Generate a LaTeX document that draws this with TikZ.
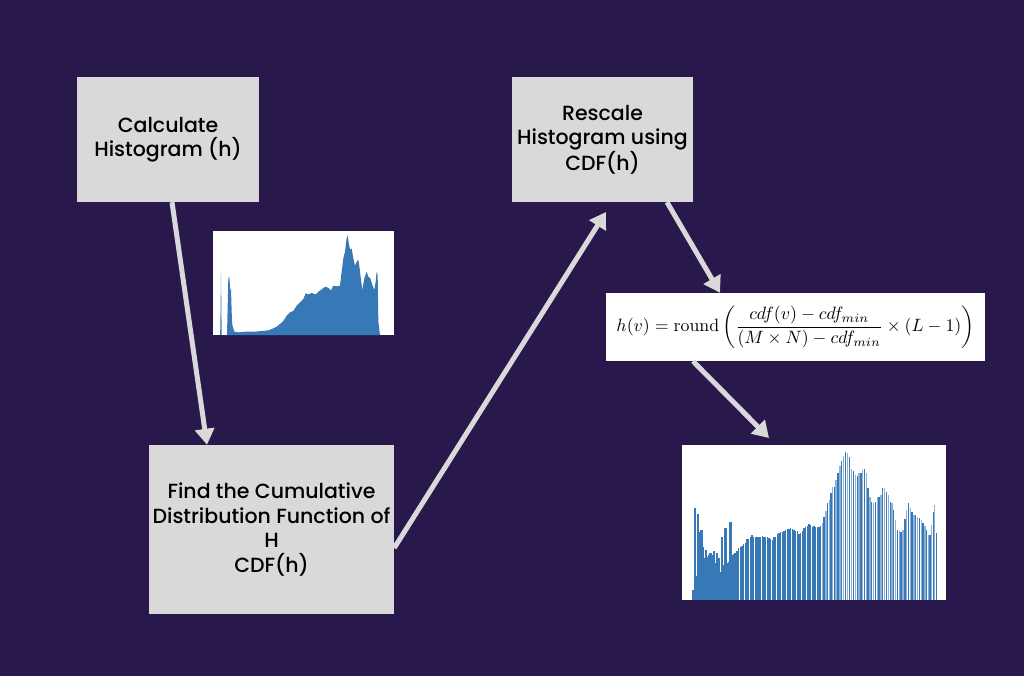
\documentclass[tikz,border=0pt]{standalone}
\usepackage{amsmath}
\usepackage[no-math]{fontspec}
\setmainfont{Poppins}
\newfontfamily\medfont{Poppins}[UprightFont=* Medium]
\usetikzlibrary{arrows.meta}
\definecolor{bgpurple}{HTML}{29184B}
\definecolor{boxgray}{HTML}{D9D9D9}
\definecolor{histblue}{HTML}{3778B6}
\definecolor{histlight}{HTML}{8DB2D6}

\begin{document}
\begin{tikzpicture}[x=1pt,y=-1pt,
	stepbox/.style={fill=boxgray, inner sep=0pt, align=center, font=\medfont\fontsize{20.5}{24.5}\selectfont},
	arr/.style={draw=boxgray, line width=5pt, -{Triangle[length=16pt,width=19pt]}}]
	\fill [bgpurple] (0,0) rectangle (1024,676);
	\useasboundingbox (0,0) rectangle (1024,676);

	\node [stepbox, minimum width=182pt, minimum height=125pt] (calc) at (168,139.5) {Calculate\\Histogram (h)};
	\node [stepbox, minimum width=245pt, minimum height=169pt] (cdf) at (271.5,529.5) {Find the Cumulative\\Distribution Function of\\H\\CDF(h)};
	\node [stepbox, minimum width=181pt, minimum height=125pt] (rescale) at (602.5,139.5) {Rescale\\Histogram using\\CDF(h)};
	\node [fill=white, minimum width=379pt, minimum height=68pt, inner sep=0pt] (formula) at (795.5,327)
		{\resizebox{358pt}{!}{$h(v) = \mathrm{round}\left(\dfrac{cdf(v)-cdf_{min}}{(M\times N)-cdf_{min}}\times(L-1)\right)$}};

	% histogram of the input
	\node [fill=white, minimum width=181pt, minimum height=104pt, inner sep=0pt] (hista) at (303.5,283) {};
	\begin{scope}[shift={(205,225)}, scale=1/3]
		\fill [histblue] (45,330) -- (46,310) -- (48,145) -- (50,330) -- (66,330) -- (70,160) -- (73,155)
			-- (76,200) -- (78,190) -- (80,260) -- (82,300) -- (88,320) -- (100,322) -- (120,320)
			-- (150,320) -- (170,318) -- (190,316) -- (205,310) -- (215,305) -- (225,297) -- (235,288)
			-- (245,272) -- (255,262) -- (265,258) -- (275,242) -- (285,232) -- (295,222) -- (302,205)
			-- (310,208) -- (320,204) -- (332,208) -- (340,200) -- (348,195) -- (356,188) -- (362,185)
			-- (372,190) -- (378,196) -- (385,182) -- (395,184) -- (405,182) -- (410,140) -- (415,100)
			-- (420,80) -- (424,45) -- (428,30) -- (432,60) -- (436,75) -- (440,70) -- (444,95)
			-- (450,122) -- (456,108) -- (460,105) -- (464,130) -- (468,165) -- (472,195) -- (478,160)
			-- (485,140) -- (490,155) -- (496,160) -- (502,180) -- (508,195) -- (512,170) -- (515,140)
			-- (518,150) -- (520,290) -- (525,330) -- cycle;
	\end{scope}

	% histogram after equalization
	\node [fill=white, minimum width=264pt, minimum height=155pt, inner sep=0pt] (histb) at (814,522.5) {};
	\begin{scope}[shift={(675,440)}, scale=1/3]
		\foreach \bx/\by [count=\i] in {55/450, 59/205, 63/408, 68/222, 72/275, 76/300, 79/270, 83/320,
			88/355, 92/330, 97/350, 102/345, 106/338, 111/345, 116/332, 121/368, 126/340, 131/355,
			136/395, 141/290, 146/375, 151/265, 156/370, 161/365, 166/245, 171/345, 176/342, 181/338,
			186/332, 191/325, 196/322, 201/318, 206/312, 211/308, 216/298, 221/296, 226/290, 231/285,
			236/292, 241/292, 246/292, 252/292, 257/290, 262/288, 267/292, 272/292, 277/292, 282/295,
			287/296, 292/300, 297/292, 302/290, 307/282, 312/280, 317/276, 322/276, 327/272, 332/270,
			337/268, 342/268, 347/264, 352/266, 357/270, 362/272, 367/272, 372/283, 377/280, 382/272,
			387/265, 392/262, 397/258, 402/253, 407/255, 412/260, 417/258, 422/262, 427/260, 432/262,
			437/258, 442/250, 447/230, 453/212, 458/188, 463/180, 468/160, 473/140, 478/140, 483/120,
			489/100, 495/78, 500/62, 506/48, 512/35, 518/40, 524/50, 530/88, 536/92, 542/105, 547/108,
			552/100, 558/98, 563/90, 568/88, 574/100, 579/145, 585/170, 590/185, 596/190, 601/185,
			607/172, 612/170, 618/165, 623/145, 629/145, 634/155, 640/165, 646/185, 651/190, 656/210,
			662/240, 667/270, 673/272, 678/275, 684/270, 690/238, 695/210, 700/190, 706/205, 711/215,
			717/225, 722/225, 728/230, 733/235, 739/240, 744/250, 750/258, 755/270, 760/285, 765/285,
			770/255, 775/215, 779/195, 784/280} {
			\ifodd\i \def\bc{histblue}\else\def\bc{histlight}\fi
			\ifnum\bx<440 \def\bc{histblue}\fi
			\ifnum\bx<190 \def\bw{3.5}\else\def\bw{1.9}\fi
			\fill [\bc] (\bx-\bw,480) rectangle (\bx+\bw,\by);
		}
	\end{scope}

	\coordinate (up) at (606,212);
	\coordinate (down) at (769,438);
	\draw [arr] ([xshift=4pt]calc.south) -- ([xshift=-64.5pt]cdf.north);
	\draw [arr] ([yshift=-18.5pt]cdf.east) -- (up);
	\draw [arr] ([xshift=64.5pt]rescale.south) -- ([xshift=-75.5pt]formula.north);
	\draw [arr] ([xshift=-102.5pt]formula.south) -- (down);
\end{tikzpicture}
\end{document}
